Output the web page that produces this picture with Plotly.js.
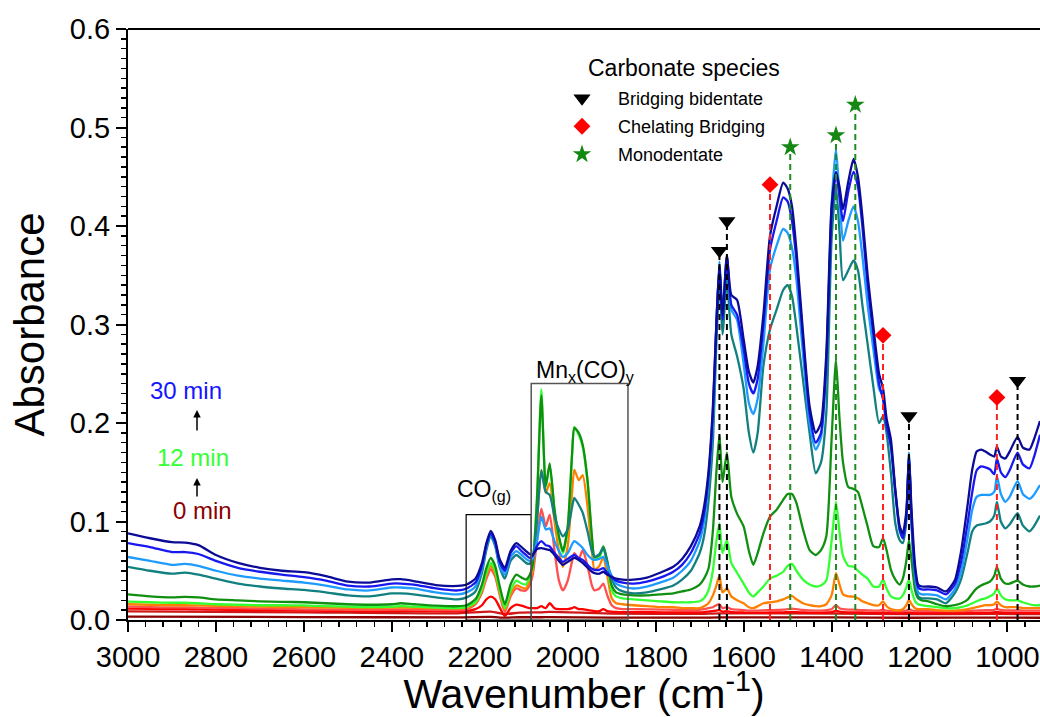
<!DOCTYPE html>
<html>
<head>
<meta charset="utf-8">
<script src="https://cdn.plot.ly/plotly-3.0.1.min.js"></script>
<style>html,body{margin:0;padding:0;background:#fff;}#chart{width:1040px;height:717px;}</style>
</head>
<body>
<div id="chart"></div>
<script>
// ---------------- DATA ----------------
// shared wavenumber grid (cm-1)
const wn = [
 3000,2950,2900,2870,2840,2800,2750,2700,2650,2600,2550,2500,2450,2400,2380,2350,2300,2250,
 2230,2210,2195,2185,2175,2165,2155,2143,2130,2117,2105,2095,2087,
 2080,2070,2060,2050,2041,2030,2020,2011,2000,1990,1985,1975,1966,1955,1945,1939,1928,1919,1910,1900,1890,1875,
 1850,1820,1790,1760,1740,1720,1700,1690,1680,1670,
 1662,1655,1648,1638,1628,1615,1600,1588,1578,1568,1555,1540,1525,1510,1500,1490,1480,1465,1450,1436,
 1424,1412,1400,1390,1382,1374,1362,1350,1340,1330,1318,1305,1292,1283,1275,1265,1255,1245,1238,1230,
 1224,1218,1210,1203,1195,
 1180,1160,1140,1120,1105,1090,1080,1070,1060,1050,1040,1030,1024,1015,1005,995,977,965,950,940,926
];

const min30 = [ // dark blue
 0.088,0.083,0.079,0.0786,0.076,0.066,0.058,0.053,0.050,0.0485,0.0445,0.039,0.038,0.0412,0.0414,0.0395,0.0355,0.0346,
 0.036,0.042,0.058,0.078,0.0905,0.081,0.062,0.053,0.070,0.078,0.074,0.070,0.067,
 0.066,0.072,0.073,0.072,0.071,0.066,0.060,0.056,0.059,0.062,0.063,0.061,0.058,0.053,0.049,0.0475,0.047,0.049,0.046,0.044,0.042,0.041,
 0.041,0.043,0.048,0.054,0.062,0.075,0.095,0.115,0.150,0.215,
 0.300,0.360,0.310,0.370,0.330,0.325,0.285,0.252,0.241,0.258,0.310,0.390,0.420,0.444,0.438,0.420,0.376,0.292,0.217,0.190,
 0.200,0.270,0.420,0.455,0.440,0.417,0.445,0.468,0.450,0.410,0.350,0.298,0.250,0.235,0.205,0.183,0.132,0.095,0.088,0.110,
 0.166,0.110,0.055,0.036,0.034,
 0.034,0.033,0.029,0.040,0.071,0.119,0.153,0.171,0.173,0.171,0.168,0.166,0.176,0.166,0.164,0.171,0.186,0.175,0.173,0.183,0.202
];
const min27 = [ // blue
 0.078,0.074,0.069,0.069,0.067,0.060,0.053,0.049,0.046,0.0435,0.040,0.035,0.034,0.037,0.037,0.036,0.032,0.030,
 0.032,0.038,0.055,0.076,0.088,0.079,0.059,0.050,0.068,0.075,0.070,0.066,0.063,
 0.065,0.075,0.080,0.076,0.0746,0.068,0.063,0.059,0.062,0.065,0.066,0.063,0.061,0.056,0.052,0.051,0.051,0.0526,0.048,0.043,0.040,0.038,
 0.037,0.039,0.043,0.049,0.056,0.068,0.088,0.108,0.145,0.210,
 0.300,0.360,0.305,0.370,0.320,0.310,0.275,0.240,0.230,0.245,0.300,0.376,0.405,0.429,0.425,0.405,0.366,0.285,0.210,0.180,
 0.190,0.260,0.410,0.454,0.430,0.405,0.435,0.455,0.440,0.400,0.340,0.290,0.240,0.224,0.198,0.176,0.130,0.092,0.083,0.105,
 0.166,0.100,0.050,0.033,0.031,
 0.031,0.030,0.026,0.036,0.060,0.100,0.130,0.152,0.156,0.155,0.153,0.148,0.164,0.150,0.145,0.152,0.170,0.158,0.154,0.165,0.188
];
const min24 = [ // light blue
 0.064,0.060,0.056,0.057,0.055,0.050,0.045,0.042,0.040,0.038,0.035,0.031,0.030,0.033,0.033,0.032,0.028,0.026,
 0.028,0.034,0.052,0.074,0.087,0.077,0.056,0.046,0.064,0.070,0.066,0.062,0.060,
 0.062,0.080,0.105,0.092,0.093,0.080,0.070,0.064,0.068,0.077,0.080,0.077,0.073,0.066,0.062,0.061,0.062,0.064,0.055,0.045,0.037,0.034,
 0.032,0.034,0.038,0.043,0.050,0.060,0.080,0.100,0.140,0.200,
 0.300,0.364,0.312,0.366,0.315,0.305,0.260,0.220,0.209,0.225,0.280,0.356,0.380,0.397,0.393,0.378,0.346,0.270,0.200,0.173,
 0.185,0.260,0.420,0.478,0.430,0.385,0.405,0.420,0.405,0.370,0.320,0.275,0.235,0.227,0.200,0.176,0.130,0.090,0.084,0.105,
 0.170,0.100,0.045,0.028,0.026,
 0.026,0.025,0.021,0.031,0.050,0.085,0.112,0.125,0.127,0.127,0.127,0.130,0.146,0.128,0.120,0.125,0.141,0.128,0.123,0.127,0.137
];
const min21 = [ // teal
 0.054,0.050,0.047,0.048,0.046,0.042,0.037,0.034,0.032,0.0305,0.028,0.025,0.024,0.027,0.027,0.026,0.023,0.021,
 0.023,0.029,0.048,0.071,0.085,0.075,0.054,0.042,0.060,0.066,0.062,0.058,0.057,
 0.062,0.100,0.152,0.130,0.127,0.105,0.092,0.085,0.092,0.115,0.124,0.117,0.109,0.090,0.070,0.064,0.067,0.073,0.058,0.042,0.033,0.029,
 0.027,0.028,0.031,0.035,0.041,0.050,0.068,0.085,0.120,0.180,
 0.280,0.345,0.290,0.345,0.290,0.268,0.235,0.190,0.170,0.190,0.258,0.295,0.315,0.335,0.340,0.329,0.298,0.244,0.190,0.149,
 0.160,0.210,0.386,0.440,0.395,0.345,0.355,0.365,0.355,0.320,0.280,0.237,0.200,0.207,0.190,0.149,0.098,0.081,0.078,0.100,
 0.163,0.095,0.040,0.024,0.022,
 0.022,0.021,0.017,0.027,0.042,0.070,0.090,0.096,0.097,0.098,0.100,0.106,0.120,0.100,0.093,0.097,0.1085,0.096,0.090,0.095,0.106
];
const min18 = [ // dark green
 0.026,0.024,0.023,0.0235,0.023,0.021,0.020,0.019,0.0185,0.018,0.017,0.016,0.0155,0.016,0.017,0.016,0.0145,0.014,
 0.015,0.021,0.036,0.053,0.063,0.055,0.035,0.016,0.036,0.046,0.043,0.041,0.045,
 0.055,0.120,0.228,0.136,0.159,0.112,0.085,0.070,0.095,0.170,0.195,0.190,0.178,0.142,0.085,0.064,0.066,0.0746,0.060,0.035,0.028,0.026,
 0.025,0.025,0.026,0.027,0.029,0.031,0.036,0.042,0.052,0.090,
 0.150,0.188,0.140,0.170,0.125,0.108,0.095,0.070,0.056,0.068,0.088,0.105,0.112,0.122,0.128,0.128,0.119,0.092,0.071,0.066,
 0.071,0.085,0.183,0.264,0.205,0.160,0.135,0.133,0.130,0.115,0.095,0.075,0.074,0.083,0.071,0.051,0.041,0.036,0.042,0.060,
 0.081,0.060,0.030,0.022,0.020,
 0.019,0.016,0.014,0.015,0.017,0.021,0.027,0.032,0.035,0.037,0.039,0.045,0.054,0.042,0.037,0.037,0.040,0.036,0.034,0.034,0.035
];
const min12 = [ // bright green
 0.0186,0.018,0.0175,0.0175,0.017,0.016,0.0155,0.015,0.015,0.0148,0.014,0.0135,0.013,0.0135,0.014,0.0135,0.0125,0.012,
 0.013,0.018,0.032,0.048,0.058,0.050,0.031,0.012,0.030,0.040,0.037,0.036,0.043,
 0.055,0.125,0.234,0.134,0.157,0.110,0.083,0.068,0.093,0.168,0.196,0.188,0.176,0.140,0.083,0.062,0.064,0.073,0.057,0.030,0.024,0.022,
 0.021,0.020,0.019,0.018,0.018,0.018,0.019,0.022,0.030,0.050,
 0.080,0.098,0.068,0.081,0.058,0.048,0.037,0.028,0.024,0.028,0.034,0.042,0.045,0.049,0.055,0.057,0.050,0.041,0.036,0.034,
 0.035,0.040,0.080,0.120,0.090,0.065,0.055,0.054,0.050,0.046,0.042,0.034,0.034,0.041,0.032,0.024,0.022,0.022,0.025,0.033,
 0.041,0.030,0.019,0.016,0.015,
 0.014,0.013,0.012,0.012,0.013,0.015,0.017,0.019,0.021,0.022,0.024,0.027,0.032,0.025,0.021,0.020,0.020,0.018,0.016,0.015,0.015
];
const min9 = [ // orange
 0.016,0.0155,0.015,0.015,0.0148,0.0143,0.014,0.0135,0.0132,0.013,0.0127,0.0124,0.0122,0.0125,0.0126,0.0124,0.012,0.0118,
 0.012,0.017,0.030,0.045,0.055,0.047,0.028,0.010,0.026,0.035,0.033,0.032,0.040,
 0.050,0.100,0.1525,0.129,0.139,0.100,0.070,0.054,0.075,0.130,0.1525,0.142,0.147,0.115,0.070,0.051,0.055,0.064,0.045,0.022,0.017,0.016,
 0.015,0.014,0.013,0.013,0.012,0.012,0.012,0.014,0.017,0.025,
 0.035,0.045,0.028,0.032,0.024,0.020,0.017,0.013,0.012,0.014,0.017,0.018,0.019,0.021,0.023,0.0245,0.021,0.017,0.015,0.014,
 0.014,0.016,0.025,0.0475,0.036,0.026,0.024,0.0237,0.022,0.019,0.017,0.015,0.015,0.019,0.014,0.011,0.010,0.010,0.011,0.015,
 0.0203,0.016,0.012,0.011,0.011,
 0.011,0.010,0.0095,0.0095,0.010,0.011,0.012,0.013,0.014,0.015,0.015,0.016,0.0186,0.015,0.013,0.013,0.013,0.012,0.012,0.012,0.012
];
const min6 = [ // light red
 0.0135,0.013,0.0128,0.0128,0.0126,0.0122,0.012,0.0116,0.0113,0.0108,0.0106,0.0104,0.0102,0.0105,0.0106,0.0104,0.0101,0.010,
 0.0105,0.016,0.028,0.042,0.0515,0.044,0.026,0.008,0.024,0.032,0.030,0.030,0.035,
 0.045,0.080,0.113,0.095,0.107,0.070,0.040,0.030,0.040,0.060,0.068,0.062,0.071,0.055,0.035,0.030,0.032,0.037,0.025,0.015,0.012,0.011,
 0.011,0.0108,0.0106,0.0104,0.0102,0.0102,0.0104,0.011,0.012,0.013,
 0.015,0.016,0.012,0.013,0.011,0.0105,0.010,0.0095,0.0095,0.0095,0.0098,0.010,0.0102,0.0105,0.011,0.0115,0.011,0.0102,0.0098,0.0096,
 0.0096,0.010,0.011,0.015,0.012,0.011,0.0105,0.0105,0.0102,0.010,0.0098,0.0096,0.0096,0.0104,0.0095,0.009,0.009,0.009,0.009,0.0095,
 0.011,0.0098,0.009,0.009,0.009,
 0.009,0.009,0.009,0.009,0.009,0.0092,0.0094,0.0096,0.0098,0.010,0.010,0.0104,0.0112,0.0102,0.0098,0.0098,0.0098,0.0096,0.0095,0.0095,0.0095
];
const min3 = [ // red
 0.0115,0.0112,0.011,0.011,0.0108,0.0105,0.0102,0.010,0.0098,0.0096,0.0094,0.0092,0.009,0.0092,0.0093,0.0092,0.009,0.0088,
 0.009,0.011,0.015,0.021,0.0237,0.021,0.013,0.004,0.012,0.0155,0.0145,0.013,0.012,
 0.012,0.012,0.014,0.012,0.017,0.012,0.011,0.011,0.011,0.012,0.013,0.011,0.011,0.010,0.0095,0.009,0.009,0.011,0.009,0.0085,0.0082,0.008,
 0.008,0.0079,0.0078,0.0077,0.0076,0.0076,0.0077,0.008,0.0085,0.009,
 0.0095,0.010,0.0085,0.009,0.008,0.0078,0.0076,0.0074,0.0074,0.0074,0.0075,0.0076,0.0077,0.0078,0.008,0.0082,0.008,0.0077,0.0075,0.0074,
 0.0074,0.0076,0.008,0.0095,0.0085,0.008,0.0078,0.0078,0.0077,0.0076,0.0075,0.0074,0.0074,0.0078,0.0073,0.0071,0.007,0.007,0.007,0.0072,
 0.0078,0.0073,0.007,0.007,0.007,
 0.007,0.007,0.007,0.007,0.007,0.0071,0.0072,0.0073,0.0074,0.0075,0.0075,0.0077,0.0082,0.0076,0.0074,0.0074,0.0074,0.0073,0.0072,0.0072,0.0072
];
// two lowest traces on their own coarse grid
const wnLow = [3000,2600,2250,2175,2143,2110,2060,2041,1900,1700,1655,1390,1224,1024,926];
const min1 = [0.0088,0.0078,0.0068,0.0085,0.006,0.0075,0.0078,0.0082,0.0066,0.0062,0.0068,0.0066,0.006,0.0062,0.006];
const min0 = [0.0034,0.003,0.0027,0.0031,0.0024,0.0028,0.0028,0.003,0.0025,0.0024,0.0026,0.0026,0.0023,0.0024,0.0023];

// carbonate species markers
const bidentateX = [1655, 1638, 1224, 977];
const bidentateY = [0.375, 0.405, 0.207, 0.243];
const chelatingX = [1540, 1283, 1024];
const chelatingY = [0.442, 0.289, 0.226];
const monoX = [1494, 1390, 1346];
const monoY = [0.48, 0.492, 0.523];

// boxed regions [left wn, right wn, top absorbance]
const boxCO = [2231, 2083, 0.107];
const boxMn = [2083, 1863, 0.240];

// ---------------- TRACES ----------------
const FONT = 'Liberation Sans, Arial, sans-serif';
const series = [
  {x: wnLow, y: min0,  c: '#8B0000'},
  {x: wnLow, y: min1,  c: '#D01818'},
  {x: wn, y: min3,  c: '#FF0000'},
  {x: wn, y: min6,  c: '#FF5050'},
  {x: wn, y: min9,  c: '#FF8000'},
  {x: wn, y: min12, c: '#33FF33'},
  {x: wn, y: min18, c: '#109010'},
  {x: wn, y: min21, c: '#128080'},
  {x: wn, y: min24, c: '#1E9BFF'},
  {x: wn, y: min27, c: '#1818F0'},
  {x: wn, y: min30, c: '#0B0B96'}
];
const traces = series.map(s => ({
  type: 'scatter', mode: 'lines', x: s.x, y: s.y, showlegend: false, hoverinfo: 'skip',
  line: {color: s.c, width: 2.3, shape: 'spline', smoothing: 0.6}
}));

function dropLines(xs, ys, color) {
  const x = [], y = [];
  xs.forEach((v, i) => { x.push(v, v, null); y.push(0, ys[i], null); });
  return {type: 'scatter', mode: 'lines', x, y, showlegend: false, hoverinfo: 'skip',
          line: {color, width: 2, dash: '6px,4px'}};
}
traces.push(dropLines(bidentateX, bidentateY, '#000000'));
traces.push(dropLines(chelatingX, chelatingY, '#FF2020'));
traces.push(dropLines(monoX, monoY, '#1E8C1E'));

traces.push({type: 'scatter', mode: 'markers', name: 'Bridging bidentate', legendgroup: 'a',
  x: bidentateX, y: bidentateY, marker: {symbol: 'triangle-down', size: 15, color: '#000000'}});
traces.push({type: 'scatter', mode: 'markers', name: 'Chelating Bridging', legendgroup: 'b',
  x: chelatingX, y: chelatingY, marker: {symbol: 'diamond', size: 13, color: '#FF0000'}});
traces.push({type: 'scatter', mode: 'markers', name: 'Monodentate', legendgroup: 'c',
  x: monoX, y: monoY, marker: {symbol: 'star', size: 14, color: '#138813'}});

// ---------------- LAYOUT ----------------
const px2x = px => (px - 128) / 912;
const px2y = py => (620 - py) / 591;

const layout = {
  width: 1040, height: 717,
  margin: {l: 128, r: 0, t: 29, b: 97},
  paper_bgcolor: '#fff', plot_bgcolor: '#fff',
  font: {family: FONT, color: '#000'},
  showlegend: true,
  legend: {
    x: px2x(546), y: px2y(80), xanchor: 'left', yanchor: 'top',
    bgcolor: 'rgba(0,0,0,0)', borderwidth: 0,
    font: {size: 18, family: FONT, color: '#000'},
    traceorder: 'grouped', tracegroupgap: 1.6, itemwidth: 62
  },
  xaxis: {
    range: [3000, 926], autorange: false,
    tick0: 1000, dtick: 200, tickformat: 'd', ticklabeloverflow: 'allow',
    ticks: 'outside', ticklen: 10, tickwidth: 2, tickcolor: '#000',
    minor: {dtick: 40, ticks: 'outside', ticklen: 5, tickwidth: 1.5, tickcolor: '#000'},
    showline: true, linewidth: 2, linecolor: '#000', mirror: false,
    showgrid: false, zeroline: false,
    tickfont: {size: 29, family: FONT},
    title: {text: 'Wavenumber (cm<sup>-1</sup>)', font: {size: 41, family: FONT}, standoff: 11}
  },
  yaxis: {
    range: [0, 0.6], autorange: false, dtick: 0.1, tick0: 0, tickformat: '.1f',
    ticks: 'outside', ticklen: 10, tickwidth: 2, tickcolor: '#000',
    minor: {dtick: 0.01, ticks: 'outside', ticklen: 5, tickwidth: 1.5, tickcolor: '#000'},
    showline: true, linewidth: 2, linecolor: '#000', mirror: false,
    showgrid: false, zeroline: false,
    tickfont: {size: 29, family: FONT},
    title: {text: 'Absorbance', font: {size: 42, family: FONT}, standoff: 12}
  },
  shapes: [
    {type: 'line', xref: 'paper', yref: 'paper', x0: 0, x1: 1, y0: 1, y1: 1, line: {color: '#000', width: 2}},
    {type: 'rect', xref: 'x', yref: 'y', x0: boxCO[0], x1: boxCO[1], y0: 0, y1: boxCO[2], line: {color: '#000', width: 1.2}},
    {type: 'rect', xref: 'x', yref: 'y', x0: boxMn[0], x1: boxMn[1], y0: 0, y1: boxMn[2], line: {color: '#555', width: 1.5}}
  ],
  annotations: [
    {xref: 'paper', yref: 'paper', x: px2x(684), y: px2y(68), xanchor: 'center', yanchor: 'middle',
     text: 'Carbonate species', showarrow: false, font: {size: 23, family: FONT}},
    {xref: 'x', yref: 'y', x: 2191, y: boxCO[2] + 0.008, xanchor: 'center', yanchor: 'bottom',
     text: 'CO<sub>(g)</sub>', showarrow: false, font: {size: 23, family: FONT}},
    {xref: 'x', yref: 'y', x: 1960, y: boxMn[2] - 0.004, xanchor: 'center', yanchor: 'bottom',
     text: 'Mn<sub>x</sub>(CO)<sub>y</sub>', showarrow: false, font: {size: 23, family: FONT}},
    {xref: 'paper', yref: 'paper', x: px2x(186), y: px2y(390), xanchor: 'center', yanchor: 'middle',
     text: '30 min', showarrow: false, font: {size: 24, color: '#1515FF', family: FONT}},
    {xref: 'paper', yref: 'paper', x: px2x(193), y: px2y(457), xanchor: 'center', yanchor: 'middle',
     text: '12 min', showarrow: false, font: {size: 24, color: '#33FF33', family: FONT}},
    {xref: 'paper', yref: 'paper', x: px2x(202), y: px2y(510), xanchor: 'center', yanchor: 'middle',
     text: '0 min', showarrow: false, font: {size: 24, color: '#8B0000', family: FONT}},
    {xref: 'paper', yref: 'paper', x: px2x(197), y: px2y(410), ax: 0, ay: 22, text: '', showarrow: true,
     arrowhead: 2, arrowsize: 1, arrowwidth: 1.5, arrowcolor: '#000'},
    {xref: 'paper', yref: 'paper', x: px2x(197), y: px2y(478), ax: 0, ay: 20, text: '', showarrow: true,
     arrowhead: 2, arrowsize: 1, arrowwidth: 1.5, arrowcolor: '#000'}
  ]
};

Plotly.newPlot('chart', traces, layout, {staticPlot: true, displayModeBar: false});
</script>
</body>
</html>
